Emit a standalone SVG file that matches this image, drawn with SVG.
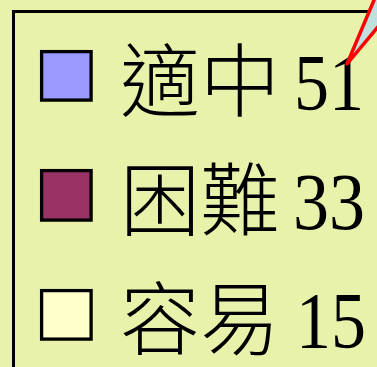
<svg xmlns="http://www.w3.org/2000/svg" width="377" height="367" viewBox="0 0 377 367">
<style>
.frame{fill:none;stroke:#000;stroke-width:3}
.sw{stroke:#000;stroke-width:3.3}
.lbl{font-family:"Liberation Serif","Noto Sans CJK TC",serif;font-size:80px;fill:#000}
.cjk{font-family:"Noto Sans CJK TC","Liberation Serif",serif;font-weight:300}
.wedge{fill:#BEE0DE;stroke:#FF0000;stroke-width:3.5;stroke-linejoin:round}
</style>
<rect width="377" height="367" fill="#E9F2AB"/>
<rect class="frame" x="13.5" y="11.5" width="420" height="420"/>
<g id="item-moderate">
<rect class="sw" x="41.6" y="51.6" width="49.5" height="48.5" fill="#9999FF"/>
<text class="lbl" x="120" y="110"><tspan class="cjk">適中</tspan> <tspan x="294" textLength="70" lengthAdjust="spacingAndGlyphs">51</tspan></text>
</g>
<g id="item-hard">
<rect class="sw" x="41.6" y="170.6" width="49.5" height="49.5" fill="#993366"/>
<text class="lbl" x="120" y="229"><tspan class="cjk">困難</tspan> <tspan x="293" textLength="72" lengthAdjust="spacingAndGlyphs">33</tspan></text>
</g>
<g id="item-easy">
<rect class="sw" x="41.6" y="290.6" width="49.5" height="48.5" fill="#FFFFCC"/>
<text class="lbl" x="120" y="348"><tspan class="cjk">容易</tspan> <tspan x="296" textLength="70" lengthAdjust="spacingAndGlyphs">15</tspan></text>
</g>
<g id="connectors">
<polygon class="wedge" points="347,64 380,-14 412,-14"/>
</g>
</svg>
